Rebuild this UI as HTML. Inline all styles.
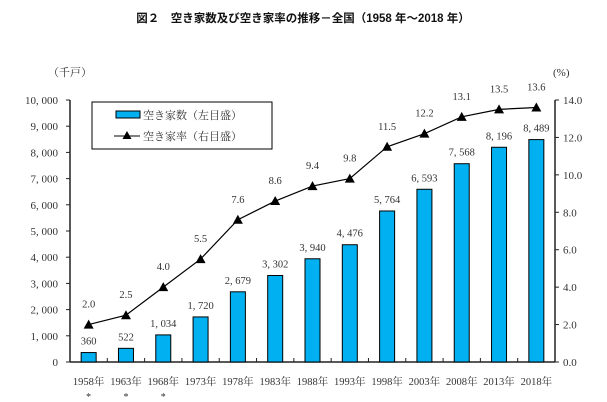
<!DOCTYPE html>
<html><head><meta charset="utf-8">
<style>
body{margin:0;background:#fff;}
svg{display:block;font-family:"Liberation Serif","Noto Serif CJK JP","Noto Serif CJK SC",serif;}
</style></head>
<body>
<svg id="c" width="607" height="402" viewBox="0 0 607 402" xmlns="http://www.w3.org/2000/svg">
<text x="303" y="22" text-anchor="middle" font-size="11.5" font-weight="bold" font-family="'Liberation Sans','Noto Sans CJK JP',sans-serif" fill="#111">図２　空き家数及び空き家率の推移－全国（1958 年～2018 年）</text>
<text x="48" y="76" font-size="11" fill="#333">（千戸）</text>
<text x="553" y="76" font-size="11" fill="#333">(%)</text>
<g id="axes"></g>
<g id="bars"></g>
<g id="line"></g>
<g>
<rect x="92" y="102" width="180" height="47" fill="#fff" stroke="#000" stroke-width="1"/>
<rect x="116" y="111" width="24" height="7" fill="#00b0f0" stroke="#000" stroke-width="1"/>
<text x="143" y="119" font-size="11" fill="#333">空き家数（左目盛）</text>
<line x1="114" y1="136" x2="140" y2="136" stroke="#000"/>
<polygon points="127,131 131.5,139 122.5,139" fill="#000"/>
<text x="143" y="140" font-size="11" fill="#333">空き家率（右目盛）</text>
</g>
</svg>
<script>
const categories=["1958年","1963年","1968年","1973年","1978年","1983年","1988年","1993年","1998年","2003年","2008年","2013年","2018年"];
const houses=[360,522,1034,1720,2679,3302,3940,4476,5764,6593,7568,8196,8489];
const rates=[2.0,2.5,4.0,5.5,7.6,8.6,9.4,9.8,11.5,12.2,13.1,13.5,13.6];
const leftTicks=[0,1000,2000,3000,4000,5000,6000,7000,8000,9000,10000];
const rightTicks=[0,2,4,6,8,10,12,14];
const starred=[true,true,true,false,false,false,false,false,false,false,false,false,false];
const NS="http://www.w3.org/2000/svg";
const X0=70,X1=555,Y0=362,Y1=100;
const band=(X1-X0)/categories.length;
const xc=i=>X0+band*(i+0.5);
const yL=v=>Y0-(v/10000)*(Y0-Y1);
const yR=v=>Y0-(v/14)*(Y0-Y1);
function mk(tag,attrs,parent,txt){const e=document.createElementNS(NS,tag);for(const k in attrs)e.setAttribute(k,attrs[k]);if(txt!==undefined)e.textContent=txt;parent.appendChild(e);return e;}
const axes=document.getElementById('axes'),bars=document.getElementById('bars'),line=document.getElementById('line');
let e;
e=mk('line',{x1:X0,y1:Y0,x2:X1,y2:Y0,stroke:'#222','stroke-width':1.5},axes);


e=mk('line',{x1:X0,y1:Y0,x2:X0,y2:Y1,stroke:'#222','stroke-width':1.5},axes);


e=mk('line',{x1:X1,y1:Y0,x2:X1,y2:Y1,stroke:'#222','stroke-width':1.5},axes);


leftTicks.forEach(v=>{
 mk('line',{x1:X0-4,y1:yL(v),x2:X0,y2:yL(v),stroke:'#222'},axes);
 e=mk('text',{x:X0-12,y:yL(v)+4,'text-anchor':'end','font-size':11,fill:'#333'},axes,v.toLocaleString('en-US').replace(',',', '));
 
 
});
rightTicks.forEach(v=>{
 mk('line',{x1:X1,y1:yR(v),x2:X1+4,y2:yR(v),stroke:'#222'},axes);
 e=mk('text',{x:X1+8,y:yR(v)+4,'font-size':11,fill:'#333'},axes,v.toFixed(1));
 
 
});
categories.forEach((c,i)=>{
 const bx=X0+band*i;
 if(i>0)mk('line',{x1:bx,y1:Y0,x2:bx,y2:Y0-4,stroke:'#222'},axes);
 e=mk('text',{x:xc(i),y:Y0+23,'text-anchor':'middle','font-size':10.5,fill:'#333'},axes,c);
 
 
 if(starred[i]){e=mk('text',{x:xc(i),y:Y0+38,'text-anchor':'middle','font-size':10,fill:'#333'},axes,'*');
 
 }
});
houses.forEach((v,i)=>{
 e=mk('rect',{x:xc(i)-7.5,y:yL(v),width:15,height:Y0-yL(v),fill:'#00b0f0',stroke:'#000','stroke-width':1},bars);
 
 
 e=mk('text',{x:xc(i),y:yL(v)-8,'text-anchor':'middle','font-size':10.5,fill:'#333'},bars,v.toLocaleString('en-US').replace(',',', '));
 
 
});
e=mk('polyline',{points:rates.map((r,i)=>xc(i)+','+yR(r)).join(' '),fill:'none',stroke:'#000','stroke-width':1.2},line);


rates.forEach((r,i)=>{
 const x=xc(i),y=yR(r);
 e=mk('polygon',{points:`${x},${y-5} ${x+5},${y+4} ${x-5},${y+4}`,fill:'#000'},line);
 
 
 e=mk('text',{x:x,y:y-17,'text-anchor':'middle','font-size':10.5,fill:'#333'},line,r.toFixed(1));
 
 
});
</script>
</body></html>
